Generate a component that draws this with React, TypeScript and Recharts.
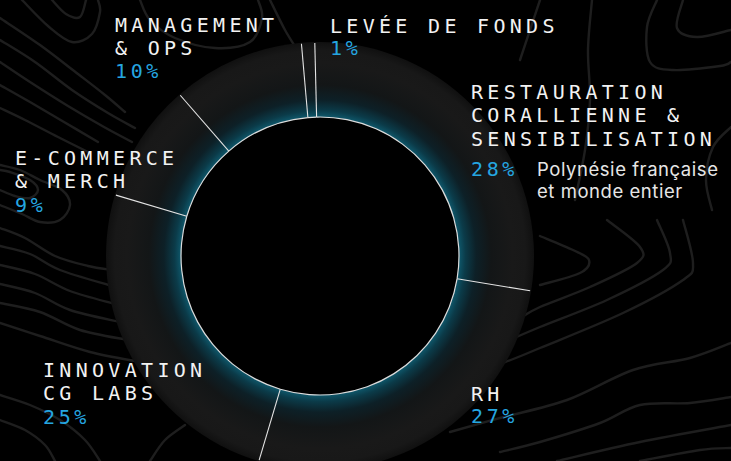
import React from 'react';
import { PieChart, Pie } from 'recharts';

// ---------- data ----------
const CATEGORY_LINES: string[][] = [
  ['LEVÉE DE FONDS'],
  ['RESTAURATION', 'CORALLIENNE &', 'SENSIBILISATION'],
  ['RH'],
  ['INNOVATION', 'CG LABS'],
  ['E-COMMERCE', '& MERCH'],
  ['MANAGEMENT', '& OPS'],
];
const VALUES: number[] = [1, 28, 27, 25, 9, 10];
const NOTES: string[][] = [[], ['Polynésie française', 'et monde entier'], [], [], [], []];

// ---------- layout ----------
const W = 731;
const H = 461;
const CX = 320;
const CY = 256;
const INNER_R = 139;
const OUTER_R = 214;
const LABEL_POS = [
  { x: 330, y: 33, pctDy: 22 },
  { x: 471, y: 99, pctDy: 30 },
  { x: 471, y: 401, pctDy: 22 },
  { x: 43, y: 377, pctDy: 24 },
  { x: 15, y: 165, pctDy: 24 },
  { x: 115, y: 32, pctDy: 23 },
];
const LINE_H = 23.3;
const MONO = '"DejaVu Sans Mono", "Liberation Mono", monospace';

const data = CATEGORY_LINES.map((lines, i) => ({ name: lines.join(' '), value: VALUES[i] }));

// decorative contour background
const CONTOURS: number[][][] = [
  // top-left
  [[0, 18], [40, 45], [78, 74], [105, 95], [125, 112]],
  [[0, 40], [35, 62], [72, 90], [108, 113], [135, 128]],
  [[0, 62], [30, 82], [68, 106], [104, 127], [132, 142]],
  [[0, 85], [30, 102], [64, 122], [98, 142]],
  [[0, 108], [25, 120], [58, 137], [88, 152]],
  [[22, 0], [48, 26], [72, 42], [92, 34], [100, 12], [98, 0]],
  [[52, 0], [66, 14], [80, 17], [86, 0]],
  [[140, 0], [150, 20], [175, 38], [215, 48], [250, 42], [262, 18], [258, 0]],
  [[270, 0], [285, 30], [300, 55], [305, 70]],
  // left middle
  [[0, 228], [25, 238], [55, 256], [88, 266], [112, 270]],
  [[0, 246], [30, 254], [60, 270], [112, 286]],
  [[0, 265], [35, 274], [70, 291], [115, 304]],
  [[0, 284], [35, 293], [70, 310], [120, 322]],
  [[0, 303], [40, 312], [80, 330], [128, 340]],
  [[0, 323], [40, 336], [90, 352], [140, 362]],
  [[0, 205], [22, 214], [40, 222], [60, 220], [70, 205], [62, 190], [40, 180], [20, 170], [0, 165]],
  [[0, 190], [15, 196], [30, 198], [38, 190], [30, 180], [10, 172], [0, 170]],
  // bottom-left
  [[0, 395], [30, 405], [60, 420], [85, 440], [100, 461]],
  [[0, 420], [25, 430], [45, 445], [55, 461]],
  [[150, 461], [165, 440], [185, 425]],
  // top-right
  [[592, 0], [588, 50], [590, 100], [585, 150], [575, 200]],
  [[657, 0], [647, 27], [650, 62], [673, 70], [720, 66], [731, 62]],
  [[683, 0], [677, 28], [697, 37], [731, 30]],
  [[731, 127], [713, 147], [706, 180], [712, 210]],
  [[540, 0], [530, 30], [520, 60]],
  // right middle / bottom
  [[540, 236], [573, 250], [589, 260], [580, 273], [540, 285]],
  [[607, 220], [640, 247], [637, 263], [590, 287], [540, 307], [520, 318]],
  [[657, 220], [670, 253], [663, 270], [607, 300], [540, 327], [505, 342]],
  [[683, 220], [693, 263], [683, 280], [623, 313], [540, 348], [505, 362], [470, 372]],
  [[450, 432], [500, 418], [567, 400], [633, 370], [690, 358], [731, 343]],
  [[500, 452], [540, 442], [600, 423], [640, 405], [690, 403], [731, 397]],
  [[557, 461], [640, 442], [731, 425]],
  [[640, 461], [700, 450], [731, 448]],
];

function smoothPath(pts: number[][]): string {
  let d = `M${pts[0][0]},${pts[0][1]}`;
  for (let i = 0; i < pts.length - 1; i++) {
    const p0 = pts[i - 1] || pts[i];
    const p1 = pts[i];
    const p2 = pts[i + 1];
    const p3 = pts[i + 2] || p2;
    const c1 = [p1[0] + (p2[0] - p0[0]) / 6, p1[1] + (p2[1] - p0[1]) / 6];
    const c2 = [p2[0] - (p3[0] - p1[0]) / 6, p2[1] - (p3[1] - p1[1]) / 6];
    d += ` C${c1[0]},${c1[1]} ${c2[0]},${c2[1]} ${p2[0]},${p2[1]}`;
  }
  return d;
}

const RAD = Math.PI / 180;

function renderLabel(props: any) {
  const { cx, cy, startAngle, index, value } = props;
  const a = -startAngle * RAD;
  const x1 = cx + INNER_R * Math.cos(a);
  const y1 = cy + INNER_R * Math.sin(a);
  const x2 = cx + (OUTER_R - 1) * Math.cos(a);
  const y2 = cy + (OUTER_R - 1) * Math.sin(a);
  const pos = LABEL_POS[index];
  const lines = CATEGORY_LINES[index];
  const lastY = pos.y + (lines.length - 1) * LINE_H;
  const notes = NOTES[index];
  return (
    <g key={`lbl-${index}`}>
      <line x1={x1} y1={y1} x2={x2} y2={y2} stroke="#e4e4e4" strokeWidth={1.1} />
      <text fill="#f2f2f2" fontFamily={MONO} fontSize={20} letterSpacing={4.3}>
        {lines.map((ln, j) => (
          <tspan key={j} x={pos.x} y={pos.y + j * LINE_H}>
            {ln}
          </tspan>
        ))}
      </text>
      <text
        x={pos.x}
        y={lastY + pos.pctDy}
        fill="#25a6e0"
        fontFamily={MONO}
        fontSize={20}
        letterSpacing={3.6}
      >
        {`${value}%`}
      </text>
      {notes.length > 0 && (
        <text fill="#e6e6e6" fontFamily="Inter, 'Noto Sans', sans-serif" fontSize={18.5} letterSpacing={0.55}>
          {notes.map((n, j) => (
            <tspan key={`n${j}`} x={537} y={lastY + pos.pctDy + j * 22.6}>
              {n}
            </tspan>
          ))}
        </text>
      )}
    </g>
  );
}

export default function App() {
  return (
    <div style={{ position: 'absolute', left: 0, top: 0, width: W, height: H, background: '#000', overflow: 'hidden' }}>
      <svg width={W} height={H} style={{ position: 'absolute', left: 0, top: 0 }}>
        <defs>
          <radialGradient id="ringGrad" gradientUnits="userSpaceOnUse" cx={CX} cy={CY} r={OUTER_R}>
            <stop offset="0" stopColor="#000000" />
            <stop offset="0.646" stopColor="#000000" />
            <stop offset="0.652" stopColor="#0e5568" />
            <stop offset="0.68" stopColor="#0b3b49" />
            <stop offset="0.73" stopColor="#0d2027" />
            <stop offset="0.8" stopColor="#131617" />
            <stop offset="0.9" stopColor="#191919" />
            <stop offset="0.96" stopColor="#181818" />
            <stop offset="1" stopColor="#101010" />
          </radialGradient>
        </defs>
        {CONTOURS.map((pts, i) => (
          <path key={i} d={smoothPath(pts)} fill="none" stroke="#1e1e1e" strokeWidth={2.4} strokeLinecap="round" />
        ))}
      </svg>
      <div style={{ position: 'absolute', left: 0, top: 0 }}>
        <PieChart width={W} height={H} margin={{ top: 0, right: 0, bottom: 0, left: 0 }}>
          <Pie
            data={data}
            dataKey="value"
            nameKey="name"
            cx={CX}
            cy={CY}
            innerRadius={0}
            outerRadius={OUTER_R}
            startAngle={95}
            endAngle={-265}
            fill="url(#ringGrad)"
            stroke="none"
            isAnimationActive={false}
            label={false}
            labelLine={false}
          />
          <Pie
            data={data}
            dataKey="value"
            nameKey="name"
            cx={CX}
            cy={CY}
            innerRadius={INNER_R - 0.6}
            outerRadius={INNER_R + 0.6}
            startAngle={95}
            endAngle={-265}
            fill="#dcdcdc"
            stroke="none"
            isAnimationActive={false}
            label={renderLabel}
            labelLine={false}
          />
        </PieChart>
      </div>
    </div>
  );
}
